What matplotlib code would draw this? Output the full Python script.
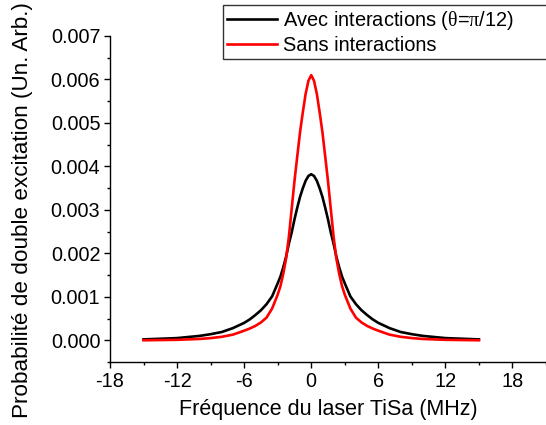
import matplotlib
matplotlib.use("Agg")
import matplotlib.pyplot as plt
from matplotlib.ticker import MultipleLocator, FormatStrFormatter

plt.rcParams['font.family'] = ['Liberation Sans', 'DejaVu Sans']
plt.rcParams['axes.unicode_minus'] = False
plt.rcParams['mathtext.fontset'] = 'custom'
plt.rcParams['mathtext.rm'] = 'Liberation Serif'
plt.rcParams['mathtext.it'] = 'Liberation Serif:italic'

# Frequency (MHz)
freq = [-15, -12, -10, -9, -8, -7, -6, -5.5, -5, -4.5, -4, -3.5, -3, -2.75, -2.5,
        -2.25, -2, -1.75, -1.5, -1.25, -1, -0.75, -0.5, -0.25, 0, 0.25, 0.5, 0.75,
        1, 1.25, 1.5, 1.75, 2, 2.25, 2.5, 2.75, 3, 3.5, 4, 4.5, 5, 5.5, 6, 7, 8,
        9, 10, 12, 15]

# With interactions (theta = pi/12)
avec = [0.00002, 0.00005, 0.00010, 0.00014, 0.00019, 0.00028, 0.00040, 0.00048,
        0.00058, 0.00069, 0.00083, 0.00101, 0.00131, 0.00147, 0.00168, 0.00192,
        0.00222, 0.00248, 0.00278, 0.00305, 0.00330, 0.00350, 0.00367, 0.00378,
        0.00382, 0.00378, 0.00367, 0.00350, 0.00330, 0.00305, 0.00278, 0.00248,
        0.00222, 0.00192, 0.00168, 0.00147, 0.00131, 0.00101, 0.00083, 0.00069,
        0.00058, 0.00048, 0.00040, 0.00028, 0.00019, 0.00014, 0.00010, 0.00005,
        0.00002]

# Without interactions
sans = [0.00000, 0.00001, 0.00003, 0.00005, 0.00008, 0.00013, 0.00022, 0.00027,
        0.00033, 0.00041, 0.00052, 0.00073, 0.00105, 0.00125, 0.00153, 0.00188,
        0.00238, 0.00302, 0.00366, 0.00423, 0.00479, 0.00525, 0.00567, 0.00597,
        0.00610, 0.00597, 0.00567, 0.00525, 0.00479, 0.00423, 0.00366, 0.00302,
        0.00238, 0.00188, 0.00153, 0.00125, 0.00105, 0.00073, 0.00052, 0.00041,
        0.00033, 0.00027, 0.00022, 0.00013, 0.00008, 0.00005, 0.00003, 0.00001,
        0.00000]

fig = plt.figure(figsize=(5.46, 4.25), dpi=100)
ax = fig.add_axes([110 / 546, 63 / 425, 1 - 110 / 546, (362 - 36) / 425])

ax.plot(freq, avec, color='black', lw=1.9,
        label=r'Avec interactions ($\mathrm{\theta}$=$\mathrm{\pi}$/12)')
ax.plot(freq, sans, color='#ff0000', lw=1.9, label='Sans interactions')

ax.set_xlim(-18, 21)
ax.set_ylim(-0.0005, 0.007)
ax.xaxis.set_major_locator(MultipleLocator(6))
ax.xaxis.set_minor_locator(MultipleLocator(3))
ax.yaxis.set_major_locator(MultipleLocator(0.001))
ax.yaxis.set_minor_locator(MultipleLocator(0.0005))
ax.yaxis.set_major_formatter(FormatStrFormatter('%.3f'))

for s in ['top', 'right']:
    ax.spines[s].set_visible(False)
for s in ['left', 'bottom']:
    ax.spines[s].set_linewidth(1.0)

ax.tick_params(which='major', direction='out', length=4, width=1.0, labelsize=14.3, pad=3)
ax.tick_params(which='minor', direction='out', length=2.5, width=1.0)

ax.set_xlabel('Fréquence du laser TiSa (MHz)', fontsize=15.5, labelpad=6)
ax.set_ylabel('Probabilité de double excitation (Un. Arb.)', fontsize=16.2)
ax.yaxis.set_label_coords((33 - 110) / 436, (362 - 210) / 326)

leg = fig.legend(loc='upper left', bbox_to_anchor=(223 / 546, 1 - 5 / 425, 340 / 546, 0),
                 mode='expand',
                 fontsize=14.4, frameon=True, fancybox=False, edgecolor='black',
                 handlelength=2.5, handletextpad=0.3, borderpad=0.2,
                 labelspacing=0.2, borderaxespad=0)
leg.get_frame().set_linewidth(1.0)

fig.savefig('out.png', dpi=100)
